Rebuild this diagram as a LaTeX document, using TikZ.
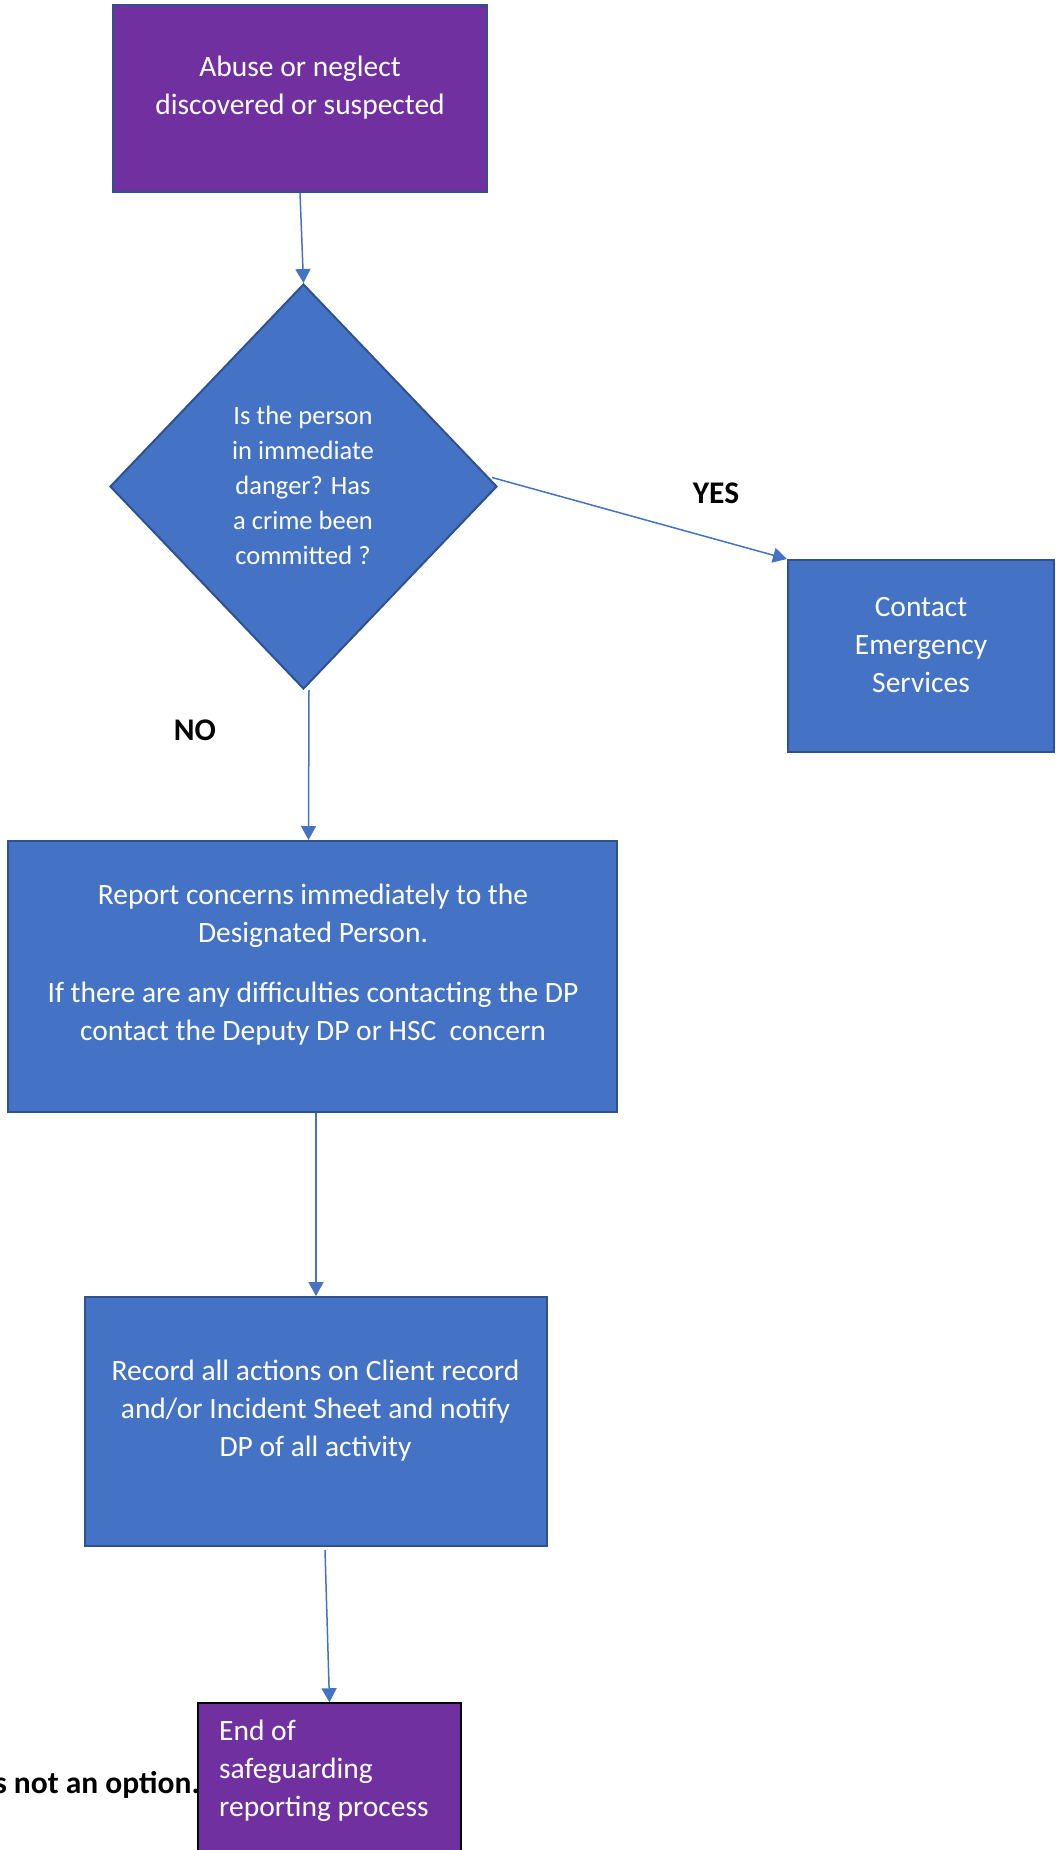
\documentclass[tikz,border=0pt]{standalone}
\usepackage{fontspec}
\setmainfont{Carlito}
\usetikzlibrary{arrows.meta,shapes.geometric}
\definecolor{boxblue}{HTML}{4472C4}
\definecolor{edgeblue}{HTML}{2F528F}
\definecolor{boxpurple}{HTML}{7030A0}
\begin{document}
\begin{tikzpicture}[x=1pt,y=-1pt,
 bluebox/.style={draw=edgeblue, line width=2pt, fill=boxblue, inner sep=0pt},
 purplebox/.style={draw=edgeblue, line width=2pt, fill=boxpurple, inner sep=0pt},
 txt/.style={text=white, align=center, inner sep=0pt, font=\fontsize{29.5}{38}\selectfont},
 lbl/.style={text=black, inner sep=0pt, font=\bfseries\fontsize{31.5}{36}\selectfont},
 conn/.style={draw=boxblue, line width=1.5pt, -{Triangle[width=15pt,length=14pt]}}
]
\useasboundingbox (0,0) rectangle (1055,1850);
\clip (0,0) rectangle (1055,1850);
\fill[white] (0,0) rectangle (1055,1850);

% boxes
\node[purplebox, minimum width=374pt, minimum height=187pt] (start) at (300,98.5) {};
\node[txt] (startT) at (300,88) {Abuse or neglect\\discovered or suspected};

\node[bluebox, diamond, minimum width=387pt, minimum height=405pt] (dia) at (303.5,486.5) {};
\node[txt, font=\fontsize{26.5}{35}\selectfont] (diaT) at (303,485) {Is the person\\in immediate\\danger? Has\\a crime been\\committed ?};

\node[bluebox, minimum width=266pt, minimum height=192pt] (cont) at (921,656) {};
\node[txt] (contT) at (921,645) {Contact\\Emergency\\Services};

\node[bluebox, minimum width=609pt, minimum height=271pt] (rep) at (312.5,976.5) {};
\node[txt] (repT) at (313,965) {Report concerns immediately to the\\Designated Person.\\[22pt]If there are any difficulties contacting the DP\\contact the Deputy DP or HSC\ \ concern};

\node[bluebox, minimum width=462pt, minimum height=249pt] (rec) at (316,1421.5) {};
\node[txt] (recT) at (315.5,1411) {Record all actions on Client record\\and/or Incident Sheet and notify\\DP of all activity};

\node[lbl, anchor=base east] (opt) at (200,1793) {s not an option.};

\node[draw=black, line width=1.5pt, fill=boxpurple, minimum width=263pt, minimum height=167pt] (end) at (329.5,1786.5) {};
\node[txt, align=left, anchor=west] (endT) at (219,1771) {End of\\safeguarding\\reporting process};

% labels
\node[lbl, anchor=base] (yes) at (716,503) {YES};
\node[lbl, anchor=base] (no) at (195,740) {NO};

% connectors
\draw[conn] (start.south) -- (dia.north);
\draw[conn] ([shift={(-6,-9)}]dia.east) -- (cont.north west);
\draw[conn] ([xshift=5.5pt]dia.south) -- ([xshift=-4pt]rep.north);
\draw[conn] ([xshift=3.5pt]rep.south) -- (rec.north);
\draw[conn] ([shift={(9,3)}]rec.south) -- (end.north);
\end{tikzpicture}
\end{document}
